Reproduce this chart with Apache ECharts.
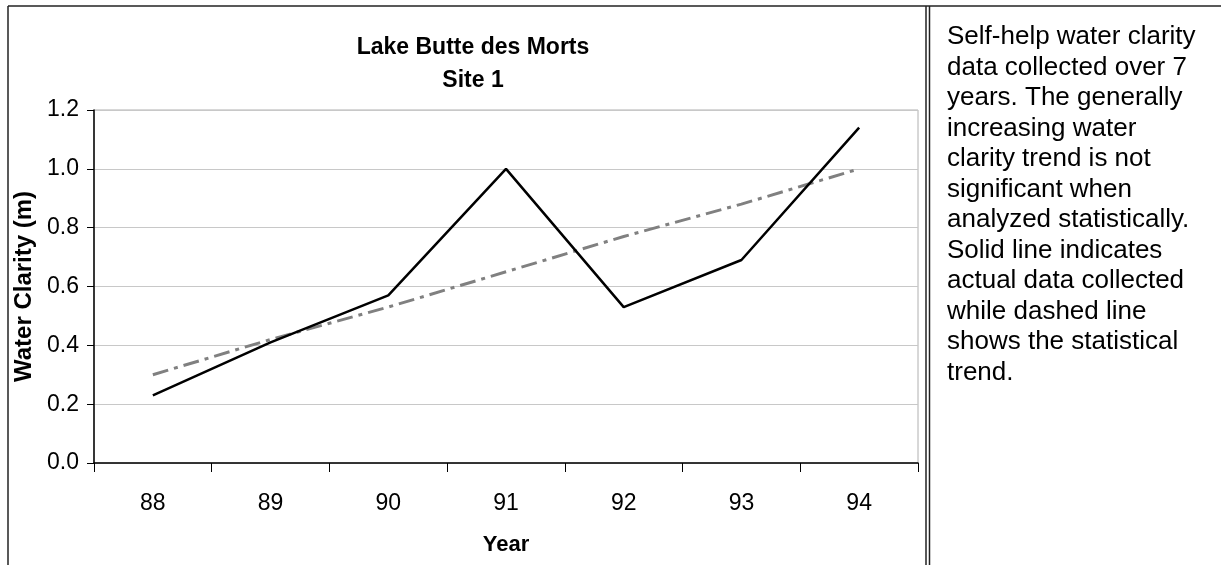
<!DOCTYPE html>
<html>
<head>
<meta charset="utf-8">
<script src="https://cdn.jsdelivr.net/npm/echarts@6/dist/echarts.min.js"></script>
<style>
  html, body { margin: 0; padding: 0; background: #fff; }
  #chart { width: 1221px; height: 565px; }
</style>
</head>
<body>
<div id="chart"></div>
<script>
// data
const years = ['88', '89', '90', '91', '92', '93', '94']
const clarity = [0.23, 0.41, 0.57, 1.0, 0.53, 0.69, 1.14]
const trend = [0.30, 0.42, 0.53, 0.65, 0.77, 0.88, 1.00]
const noteLines = [
  'Self-help water clarity',
  'data collected over 7',
  'years. The generally',
  'increasing water',
  'clarity trend is not',
  'significant when',
  'analyzed statistically.',
  'Solid line indicates',
  'actual data collected',
  'while dashed line',
  'shows the statistical',
  'trend.'
]

const font = '"Liberation Sans", Arial, sans-serif'
const chart = echarts.init(document.getElementById('chart'))

// frame lines around the chart and the note box
const frame = { stroke: '#222', lineWidth: 1.5 }

chart.setOption({
  backgroundColor: '#fff',
  animation: false,
  title: {
    text: 'Lake Butte des Morts\nSite 1',
    left: 468,
    top: 26,
    textAlign: 'center',
    textStyle: {
      fontFamily: font,
      fontWeight: 'bold',
      fontSize: 23,
      lineHeight: 33,
      color: '#000'
    }
  },
  grid: {
    left: 94,
    right: 303,
    top: 110,
    bottom: 102,
    show: true,
    borderColor: '#b0b0b0',
    borderWidth: 1
  },
  xAxis: {
    type: 'category',
    data: years,
    boundaryGap: true,
    name: 'Year',
    nameLocation: 'middle',
    nameGap: 71,
    nameTextStyle: { fontFamily: font, fontWeight: 'bold', fontSize: 22, color: '#000' },
    axisLine: { lineStyle: { color: '#000', width: 1.5 } },
    axisTick: { show: true, length: 9, inside: false, lineStyle: { color: '#000' } },
    axisLabel: { margin: 29, fontFamily: font, fontSize: 23, color: '#000' },
    splitLine: { show: false }
  },
  yAxis: {
    type: 'value',
    min: 0,
    max: 1.2,
    interval: 0.2,
    name: 'Water Clarity (m)',
    nameLocation: 'middle',
    nameGap: 52,
    nameTextStyle: { fontFamily: font, fontWeight: 'bold', fontSize: 24, color: '#000' },
    axisLine: { show: true, lineStyle: { color: '#000', width: 1.5 } },
    axisTick: { show: true, length: 7, lineStyle: { color: '#000' } },
    axisLabel: {
      margin: 15,
      fontFamily: font,
      fontSize: 23,
      color: '#000',
      formatter: v => v.toFixed(1)
    },
    splitLine: { show: true, lineStyle: { color: '#c8c8c8', width: 1 } }
  },
  series: [
    {
      name: 'Trend',
      type: 'line',
      data: trend,
      symbol: 'none',
      lineStyle: { color: '#808080', width: 3, type: [16, 6, 4, 6] },
      z: 2
    },
    {
      name: 'Clarity',
      type: 'line',
      data: clarity,
      symbol: 'none',
      lineStyle: { color: '#000', width: 2.5 },
      z: 3
    }
  ],
  graphic: [
    { type: 'line', shape: { x1: 8, y1: 6, x2: 1221, y2: 6 }, style: frame },
    { type: 'line', shape: { x1: 8, y1: 6, x2: 8, y2: 565 }, style: frame },
    { type: 'line', shape: { x1: 926, y1: 6, x2: 926, y2: 565 }, style: frame },
    { type: 'line', shape: { x1: 929.5, y1: 6, x2: 929.5, y2: 565 }, style: frame },
    {
      type: 'text',
      left: 947,
      top: 22,
      style: {
        text: noteLines.join('\n'),
        font: '26px ' + font,
        lineHeight: 30.5,
        fill: '#000'
      }
    }
  ]
})
</script>
</body>
</html>
